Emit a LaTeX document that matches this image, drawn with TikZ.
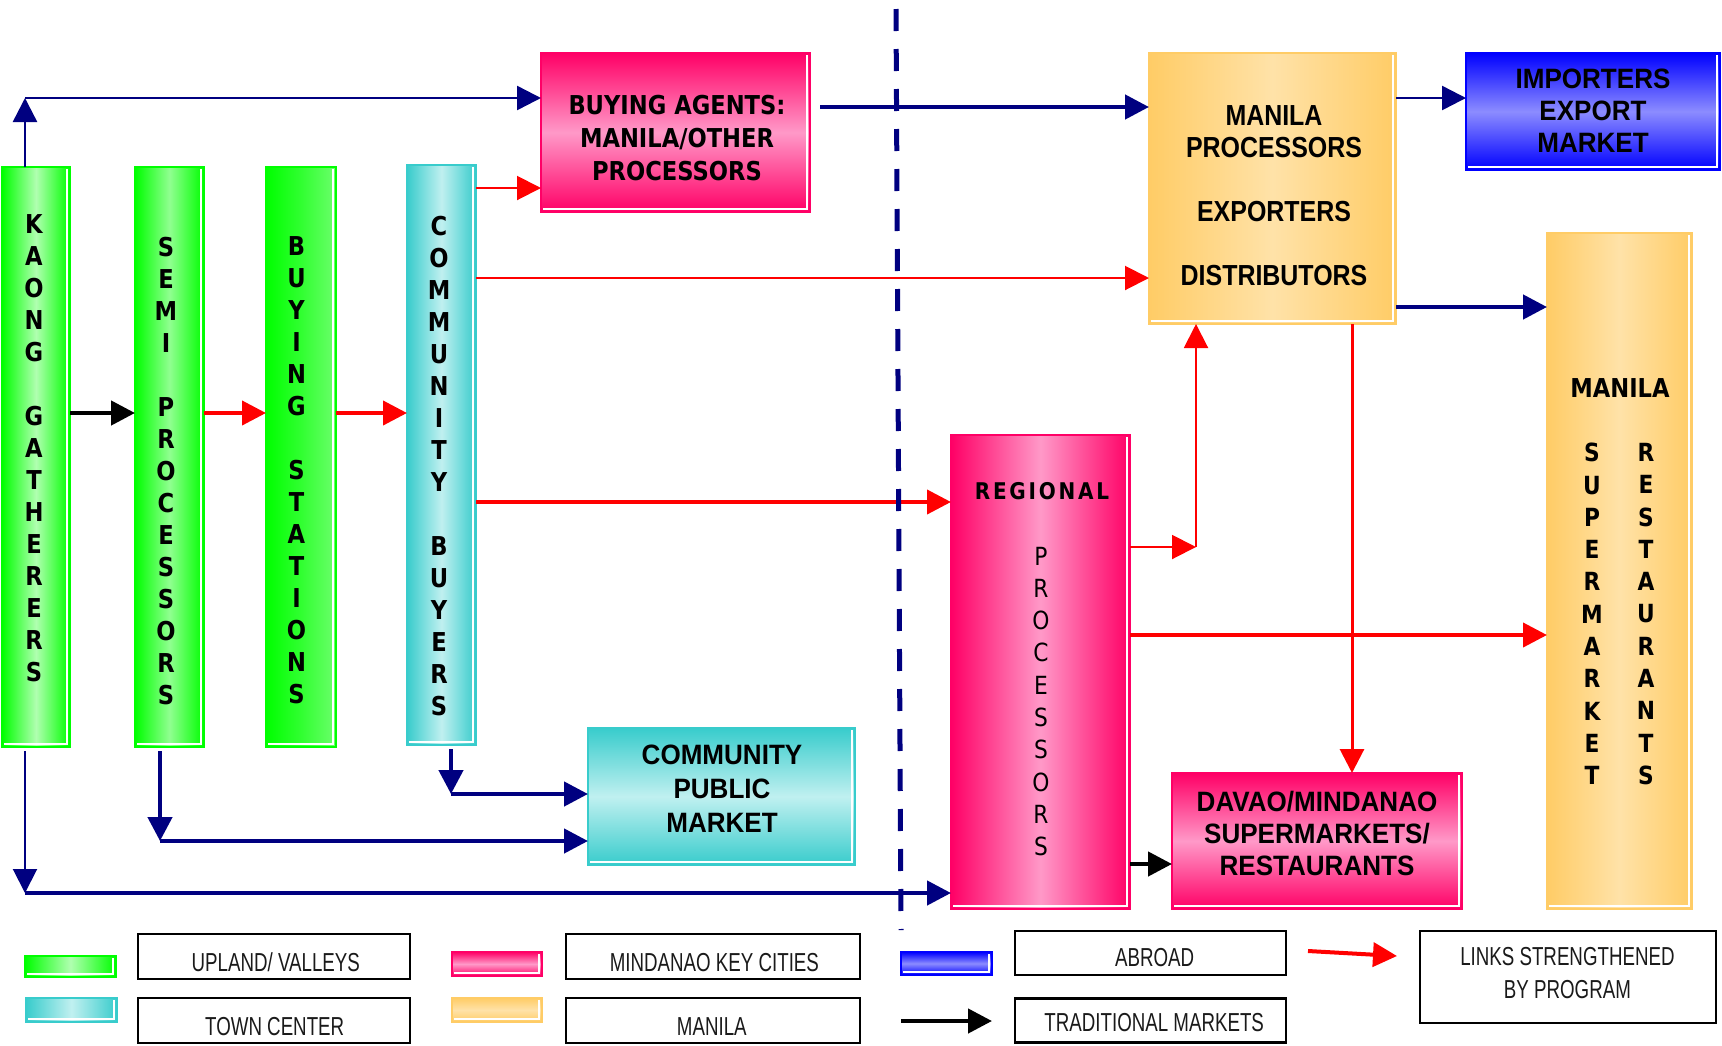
\documentclass[tikz,border=0pt]{standalone}
\usepackage{fontspec}
\usetikzlibrary{arrows.meta}
\newfontfamily\tahoma[FakeStretch=0.87]{DejaVu Sans}
\newfontfamily\agencyA[FakeStretch=0.86]{Liberation Sans}
\newfontfamily\agencyB[FakeStretch=0.93]{Liberation Sans}
\newfontfamily\twcen[FakeStretch=0.72]{Liberation Sans}
\definecolor{navy}{HTML}{000080}
\definecolor{gbright}{HTML}{00FF00}
\definecolor{glight}{HTML}{B0FFB0}
\definecolor{glight2}{HTML}{90FF90}
\definecolor{gright}{HTML}{6CFF6C}
\definecolor{cyedge}{HTML}{38CCCC}
\definecolor{cymid}{HTML}{C0F0F0}
\definecolor{pkedge}{HTML}{FF0066}
\definecolor{pkmid}{HTML}{FF99C8}
\definecolor{oredge}{HTML}{FFCC66}
\definecolor{ormid}{HTML}{FFE2A8}
\definecolor{bledge}{HTML}{0000FF}
\definecolor{blmid}{HTML}{8C8CFF}
\definecolor{legtext}{HTML}{1A1A1A}
\newcommand\hlite[1]{\draw[white,line width=1.2pt] ([xshift=-3pt,yshift=-2pt]#1.north east) -- ([xshift=-3pt,yshift=3pt]#1.south east) -- ([xshift=2pt,yshift=3pt]#1.south west);}
\tikzset{
  wh/.style 2 args={minimum width=#1pt, minimum height=#2pt},
  box/.style={draw, line width=1.5pt, inner sep=0pt, outer sep=0pt},
  gboxA/.style={box, draw=gbright, left color=gbright, right color=gbright, middle color=glight},
  gboxB/.style={box, draw=gbright, left color=gbright, right color=gbright, middle color=glight2},
  gboxC/.style={box, draw=gbright, left color=gbright, right color=gright, middle color=gbright!55!gright},
  cboxh/.style={box, draw=cyedge, left color=cyedge, right color=cyedge, middle color=cymid},
  cboxv/.style={box, draw=cyedge, top color=cyedge, bottom color=cyedge, middle color=cymid},
  pboxv/.style={box, draw=pkedge, top color=pkedge, bottom color=pkedge, middle color=pkmid},
  pboxh/.style={box, draw=pkedge, left color=pkedge, right color=pkedge, middle color=pkmid},
  oboxh/.style={box, draw=oredge, left color=oredge, right color=oredge, middle color=ormid},
  oboxv/.style={box, draw=oredge, top color=oredge, bottom color=oredge, middle color=ormid},
  bboxv/.style={box, draw=bledge, top color=bledge, bottom color=bledge, middle color=blmid},
  vtext/.style={align=center, inner sep=0pt, font=\tahoma\bfseries\fontsize{26}{32}\selectfont},
  vtextr/.style={align=center, inner sep=0pt, font=\tahoma\fontsize{25}{32.3}\selectfont},
  vtexts/.style={align=center, inner sep=0pt, font=\tahoma\bfseries\fontsize{25}{32.3}\selectfont},
  lbl/.style={align=center, inner sep=0pt},
  lbox/.style={draw=black, line width=2.5pt, fill=white, inner sep=0pt},
  ltext/.style={inner sep=0pt, text=legtext, font=\twcen\fontsize{26}{33}\selectfont, align=center},
  arr/.style={-{Triangle[length=24pt,width=24pt]}},
  nthin/.style={draw=navy, line width=2.5pt, arr},
  nthick/.style={draw=navy, line width=4.5pt, arr},
  rthin/.style={draw=red, line width=2pt, arr},
  rthick/.style={draw=red, line width=4pt, arr},
  bthick/.style={draw=black, line width=4.5pt, arr},
}
\begin{document}
\begin{tikzpicture}[x=1pt,y=-1pt]
\fill[white] (0,0) rectangle (1722,1045);
\useasboundingbox (0,0) rectangle (1722,1045);

% boxes
\node[gboxA, wh={68}{580}] (kaong) at (36,457) {};
\node[gboxB, wh={69}{580}] (semi) at (169.5,457) {};
\node[gboxC, wh={70}{580}] (buying) at (301,457) {};
\node[cboxh, wh={69}{580}] (comm) at (441.5,455) {};
\node[pboxv, wh={269}{159}] (agents) at (675.5,132.5) {};
\node[oboxh, wh={247}{271}] (mproc) at (1272.5,188.5) {};
\node[bboxv, wh={254}{117}] (import) at (1593,111.5) {};
\node[oboxh, wh={145}{676}] (msuper) at (1619.5,571) {};
\node[pboxh, wh={179}{474}] (regional) at (1040.5,672) {};
\node[pboxv, wh={290}{136}] (davao) at (1317,841) {};
\node[cboxv, wh={267}{137}] (cpm) at (721.5,796.5) {};
\foreach \n in {kaong,semi,buying,comm,agents,mproc,import,msuper,regional,davao,cpm} {\hlite{\n}}

% connectors
\coordinate (ktop) at (25,98);
\draw[nthin] (kaong.north -| ktop) -- (ktop);
\draw[nthin] (ktop) -- (agents.west |- ktop);
\coordinate (a2) at (820,107);
\draw[nthick] (a2) -- (mproc.west |- a2);
\draw[nthin] (mproc.east |- 0,98) -- (import.west |- 0,98);
\draw[nthick] (mproc.east |- 0,307) -- (msuper.west |- 0,307);

\draw[bthick] (kaong.east |- 0,413) -- (semi.west |- 0,413);
\draw[rthick] (semi.east |- 0,413) -- (buying.west |- 0,413);
\draw[rthick] (buying.east |- 0,413) -- (comm.west |- 0,413);
\draw[rthin] (comm.east |- 0,188) -- (agents.west |- 0,188);
\draw[rthin] (comm.east |- 0,278) -- (mproc.west |- 0,278);
\draw[rthick] (comm.east |- 0,502) -- (regional.west |- 0,502);

\coordinate (rc) at (1196,547);
\draw[rthin] (regional.east |- rc) -- (rc);
\draw[rthin] (rc) -- (mproc.south -| rc);
\draw[rthick] (regional.east |- 0,635) -- (msuper.west |- 0,635);
\draw[draw=red, line width=3pt, arr] (mproc.south -| 1352,0) -- (davao.north -| 1352,0);
\draw[bthick] (regional.east |- 0,864) -- (davao.west |- 0,864);

\coordinate (kb) at (25,893);
\draw[draw=navy, line width=2pt, arr] ([yshift=-4pt]kaong.south -| kb) -- (kb);
\draw[nthick] (kb) -- (regional.west |- kb);
\coordinate (sb) at (160,841);
\draw[nthick] ([yshift=-4pt]semi.south -| sb) -- (sb);
\draw[nthick] (sb) -- (cpm.west |- sb);
\coordinate (cb) at (451,794);
\draw[nthick] ([yshift=-4pt]comm.south -| cb) -- (cb);
\draw[nthick] (cb) -- (cpm.west |- cb);

% dashed divider
\draw[navy, line width=5pt, dash pattern=on 22pt off 18pt] (896,9) -- (901,930);

% texts
\node[vtext] (kaong-t) at (34,448.6) {K\\A\\O\\N\\G\\[32pt]G\\A\\T\\H\\E\\R\\E\\R\\S};
\node[vtext] (semi-t) at (166,470.7) {S\\E\\M\\I\\[32pt]P\\R\\O\\C\\E\\S\\S\\O\\R\\S};
\node[vtext] (buying-t) at (296.5,470) {B\\U\\Y\\I\\N\\G\\[32pt]S\\T\\A\\T\\I\\O\\N\\S};
\node[vtext] (comm-t) at (439,465.6) {C\\O\\M\\M\\U\\N\\I\\T\\Y\\[32pt]B\\U\\Y\\E\\R\\S};

\node[lbl, font=\tahoma\bfseries\fontsize{26}{33}\selectfont] (agents-t) at (677,138) {BUYING AGENTS:\\MANILA/OTHER\\PROCESSORS};
\node[lbl, font=\agencyA\bfseries\fontsize{29}{32}\selectfont] (mproc-t) at (1274,195.5) {MANILA\\PROCESSORS\\[32pt]EXPORTERS\\[32pt]DISTRIBUTORS};
\node[lbl, font=\agencyB\bfseries\fontsize{28}{32}\selectfont] (import-t) at (1593,111) {IMPORTERS\\EXPORT\\MARKET};
\node[lbl, font=\agencyB\bfseries\fontsize{28}{34}\selectfont] (cpm-t) at (722,789) {COMMUNITY\\PUBLIC\\MARKET};
\node[lbl, font=\agencyB\bfseries\fontsize{28}{32}\selectfont] (davao-t) at (1317,833.5) {DAVAO/MINDANAO\\SUPERMARKETS/\\RESTAURANTS};

\node[lbl, font=\tahoma\bfseries\fontsize{23}{28}\selectfont\addfontfeature{LetterSpace=12}] (reg-t) at (1042,491) {REGIONAL};
\node[vtextr] (regp-t) at (1041,701.5) {P\\R\\O\\C\\E\\S\\S\\O\\R\\S};

\node[lbl, font=\tahoma\bfseries\fontsize{26}{32}\selectfont] (ms-t) at (1620,388) {MANILA};
\node[vtexts] (ms-s) at (1592,614) {S\\U\\P\\E\\R\\M\\A\\R\\K\\E\\T};
\node[vtexts] (ms-r) at (1646,614) {R\\E\\S\\T\\A\\U\\R\\A\\N\\T\\S};

% legend swatches
\node[gboxA, wh={91}{21}] (sw-g) at (70.5,966.5) {};
\node[cboxh, wh={91}{24}] (sw-c) at (71.5,1010) {};
\node[pboxv, wh={90}{24}] (sw-p) at (497,964) {};
\node[oboxv, wh={90}{24}] (sw-o) at (497,1010) {};
\node[bboxv, wh={91}{23}] (sw-b) at (946.5,963.5) {};
\foreach \n in {sw-g,sw-c,sw-p,sw-o,sw-b} {\hlite{\n}}

% legend boxes
\node[lbox, wh={272}{45}] (l-upland) at (274,956.5) {};
\node[lbox, wh={272}{45}] (l-town) at (274,1020.5) {};
\node[lbox, wh={294}{45}] (l-mind) at (713,956.5) {};
\node[lbox, wh={294}{45}] (l-manila) at (713,1020.5) {};
\node[lbox, wh={271}{44}] (l-abroad) at (1150.5,953) {};
\node[lbox, wh={271}{44}] (l-trad) at (1150.5,1020.5) {};
\node[lbox, wh={296}{92}] (l-links) at (1568,977) {};
\node[ltext, anchor=base] (l-upland-t) at (275.8,971.3) {UPLAND/ VALLEYS};
\node[ltext, anchor=base] (l-town-t) at (274.7,1035.3) {TOWN CENTER};
\node[ltext, anchor=base] (l-mind-t) at (714.4,971.3) {MINDANAO KEY CITIES};
\node[ltext, anchor=base] (l-manila-t) at (711.8,1035.3) {MANILA};
\node[ltext, anchor=base] (l-abroad-t) at (1154.7,966.3) {ABROAD};
\node[ltext, anchor=base] (l-trad-t) at (1154.2,1031.3) {TRADITIONAL MARKETS};
\node[ltext] (l-links-t) at (1567.4,973.5) {LINKS STRENGTHENED\\BY PROGRAM};

% legend arrows
\coordinate (lr1) at (1308,951);
\coordinate (lr2) at (1397,956);
\draw[rthick] (lr1) -- (lr2);
\coordinate (lb1) at (901,1021);
\coordinate (lb2) at (992,1021);
\draw[bthick] (lb1) -- (lb2);
\end{tikzpicture}
\end{document}
